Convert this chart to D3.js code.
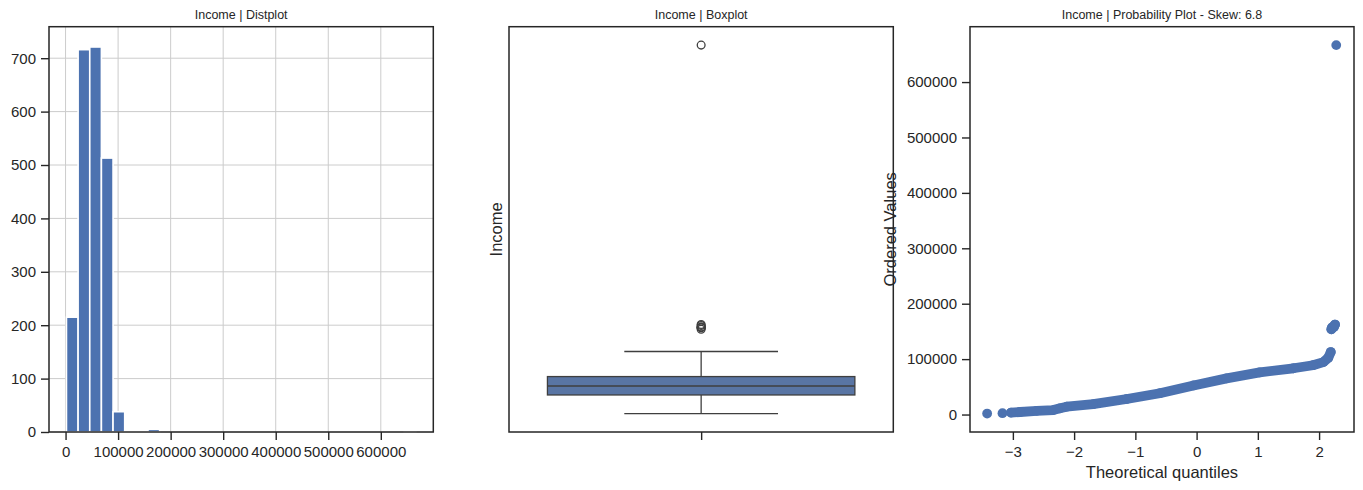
<!DOCTYPE html>
<html lang="en">
<head>
<meta charset="UTF-8">
<title>Income | Distplot, Boxplot, Probability Plot</title>
<script src="https://cdnjs.cloudflare.com/ajax/libs/d3/7.8.5/d3.min.js"></script>
<style>
  body { margin: 0; background: #fff; }
  svg { display: block; font-family: "Liberation Sans", Arial, sans-serif; }
  .tick text { font-size: 15px; fill: #262626; }
  .tick line { stroke: #262626; stroke-width: 1.4; }
  .title { font-size: 12.5px; fill: #262626; text-anchor: middle; }
  .label { font-size: 16.5px; fill: #262626; text-anchor: middle; }
  .frame { fill: none; stroke: #262626; stroke-width: 1.5; }
  .grid line { stroke: #cccccc; stroke-width: 1; }
</style>
</head>
<body>
<div id="chart"></div>
<script>
// ---- data ----
const incomeMin = 1730, incomeMax = 666666;
// 30 equal-width bins between min and max
const histCounts = [215, 716, 721, 513, 38, 1, 1, 5, 0, 0,
                    0, 0, 0, 0, 0, 0, 0, 0, 0, 0,
                    0, 0, 0, 0, 0, 0, 0, 0, 0, 1];
const histXTicks = [0, 100000, 200000, 300000, 400000, 500000, 600000];
const histYTicks = [0, 100, 200, 300, 400, 500, 600, 700];

const boxQuartiles = [35303, 51381.5, 68522];
const boxWhiskers = [1730, 113734];
const boxOutliers = [153924, 156924, 157146, 157243, 157733, 160803, 162397, 666666];

// probability plot: [theoretical quantile, ordered value]
const qqBand = [[-3.03, 3500], [-2.88, 4600], [-2.61, 6600], [-2.34, 8000], [-2.23, 11200],
                [-2.12, 14100], [-1.69, 18700], [-1.14, 28000], [-0.6, 38500], [-0.05, 52500],
                [0.49, 65200], [1.03, 76000], [1.58, 83500], [1.9, 89000], [2.07, 94600],
                [2.15, 102500], [2.19, 112700]];
const qqCluster = [[2.20, 153924], [2.21, 156924], [2.22, 157146], [2.23, 157243],
                   [2.24, 157733], [2.25, 160803], [2.26, 162397]];
const qqSingles = [[-3.42, 1730], [-3.17, 2447], [2.28, 666666]];
const qqXTicks = [-3, -2, -1, 0, 1, 2];
const qqYTicks = [0, 100000, 200000, 300000, 400000, 500000, 600000];
const skew = 6.8;

// ---- layout ----
const W = 1363, H = 490;
const plotTop = 26.7, plotBottom = 432;
const panels = [[49, 433.3], [509, 893.3], [970, 1354]];
const valueDomain = [-31517, 699913];
const blue = "#4c72b0", ink = "#3f3f3f";

const svg = d3.select("#chart").append("svg")
    .attr("width", W).attr("height", H);

function frame(p) {
    svg.append("rect").attr("class", "frame")
        .attr("x", p[0]).attr("y", plotTop)
        .attr("width", p[1] - p[0]).attr("height", plotBottom - plotTop);
}
function title(p, txt) {
    svg.append("text").attr("class", "title")
        .attr("x", (p[0] + p[1]) / 2).attr("y", 19).text(txt);
}
function clean(g) { g.select(".domain").remove(); }

// ---- panel 1: histogram ----
const p1 = panels[0];
const x1 = d3.scaleLinear().domain(valueDomain).range(p1);
const y1 = d3.scaleLinear().domain([0, 759]).range([plotBottom, plotTop]);
const binW = (incomeMax - incomeMin) / histCounts.length;

const grid = svg.append("g").attr("class", "grid");
grid.selectAll(".gx").data(histXTicks).join("line").attr("class", "gx")
    .attr("x1", d => x1(d)).attr("x2", d => x1(d))
    .attr("y1", plotTop).attr("y2", plotBottom);
grid.selectAll(".gy").data(histYTicks).join("line").attr("class", "gy")
    .attr("x1", p1[0]).attr("x2", p1[1])
    .attr("y1", d => y1(d)).attr("y2", d => y1(d));

svg.append("g").selectAll("rect")
    .data(histCounts.map((c, i) => ({x0: incomeMin + i * binW, x1: incomeMin + (i + 1) * binW, c}))
        .filter(d => d.c > 0))
    .join("rect")
    .attr("x", d => x1(d.x0)).attr("width", d => x1(d.x1) - x1(d.x0))
    .attr("y", d => y1(d.c)).attr("height", d => y1(0) - y1(d.c))
    .attr("fill", blue).attr("stroke", "#fff").attr("stroke-width", 1.6);

svg.append("g").attr("transform", `translate(0,${plotBottom})`)
    .call(d3.axisBottom(x1).tickValues(histXTicks).tickFormat(d3.format("d")).tickSize(8).tickPadding(6))
    .call(clean);
svg.append("g").attr("transform", `translate(${p1[0]},0)`)
    .call(d3.axisLeft(y1).tickValues(histYTicks).tickSize(8).tickPadding(5))
    .call(clean);
frame(p1);
title(p1, "Income | Distplot");

// ---- panel 2: boxplot ----
const p2 = panels[1];
const x2 = d3.scaleLinear().domain([-0.5, 0.5]).range(p2);
const y2 = d3.scaleLinear().domain(valueDomain).range([plotBottom, plotTop]);
const bx = svg.append("g");
bx.append("rect")
    .attr("x", x2(-0.4)).attr("width", x2(0.4) - x2(-0.4))
    .attr("y", y2(boxQuartiles[2])).attr("height", y2(boxQuartiles[0]) - y2(boxQuartiles[2]))
    .attr("fill", "#5975a4").attr("stroke", ink).attr("stroke-width", 1.3);
bx.append("line")
    .attr("x1", x2(-0.4)).attr("x2", x2(0.4))
    .attr("y1", y2(boxQuartiles[1])).attr("y2", y2(boxQuartiles[1]))
    .attr("stroke", ink).attr("stroke-width", 1.4);
bx.selectAll(".wh").data([[boxWhiskers[0], boxQuartiles[0]], [boxWhiskers[1], boxQuartiles[2]]])
    .join("line").attr("class", "wh")
    .attr("x1", x2(0)).attr("x2", x2(0))
    .attr("y1", d => y2(d[0])).attr("y2", d => y2(d[1]))
    .attr("stroke", ink).attr("stroke-width", 1.3);
bx.selectAll(".cap").data(boxWhiskers).join("line").attr("class", "cap")
    .attr("x1", x2(-0.2)).attr("x2", x2(0.2))
    .attr("y1", d => y2(d)).attr("y2", d => y2(d))
    .attr("stroke", ink).attr("stroke-width", 1.3);
bx.selectAll("circle").data(boxOutliers).join("circle")
    .attr("cx", x2(0)).attr("cy", d => y2(d)).attr("r", 3.9)
    .attr("fill", "none").attr("stroke", ink).attr("stroke-width", 1.3);

svg.append("g").attr("transform", `translate(0,${plotBottom})`)
    .call(d3.axisBottom(x2).tickValues([0]).tickFormat("").tickSize(8))
    .call(clean);
frame(p2);
title(p2, "Income | Boxplot");
svg.append("text").attr("class", "label")
    .attr("transform", `translate(502,${(plotTop + plotBottom) / 2}) rotate(-90)`)
    .text("Income");

// ---- panel 3: probability plot ----
const p3 = panels[2];
const x3 = d3.scaleLinear().domain([-3.70, 2.57]).range(p3);
const y3 = d3.scaleLinear().domain(valueDomain).range([plotBottom, plotTop]);
const r = 4.9;
const line = d3.line().x(d => x3(d[0])).y(d => y3(d[1]));
const qq = svg.append("g");
qq.selectAll("path").data([qqBand, qqCluster]).join("path")
    .attr("d", line).attr("fill", "none").attr("stroke", blue)
    .attr("stroke-width", 2 * r).attr("stroke-linecap", "round").attr("stroke-linejoin", "round");
qq.selectAll("circle").data(qqBand.concat(qqCluster, qqSingles)).join("circle")
    .attr("cx", d => x3(d[0])).attr("cy", d => y3(d[1])).attr("r", r)
    .attr("fill", blue);

svg.append("g").attr("transform", `translate(0,${plotBottom})`)
    .call(d3.axisBottom(x3).tickValues(qqXTicks).tickFormat(d3.format("d")).tickSize(8).tickPadding(6))
    .call(clean);
svg.append("g").attr("transform", `translate(${p3[0]},0)`)
    .call(d3.axisLeft(y3).tickValues(qqYTicks).tickFormat(d3.format("d")).tickSize(8).tickPadding(5))
    .call(clean);
frame(p3);
title(p3, `Income | Probability Plot - Skew: ${skew}`);
svg.append("text").attr("class", "label")
    .attr("x", (p3[0] + p3[1]) / 2).attr("y", 477.5)
    .text("Theoretical quantiles");
svg.append("text").attr("class", "label")
    .attr("transform", `translate(896,${(plotTop + plotBottom) / 2}) rotate(-90)`)
    .text("Ordered Values");
</script>
</body>
</html>
